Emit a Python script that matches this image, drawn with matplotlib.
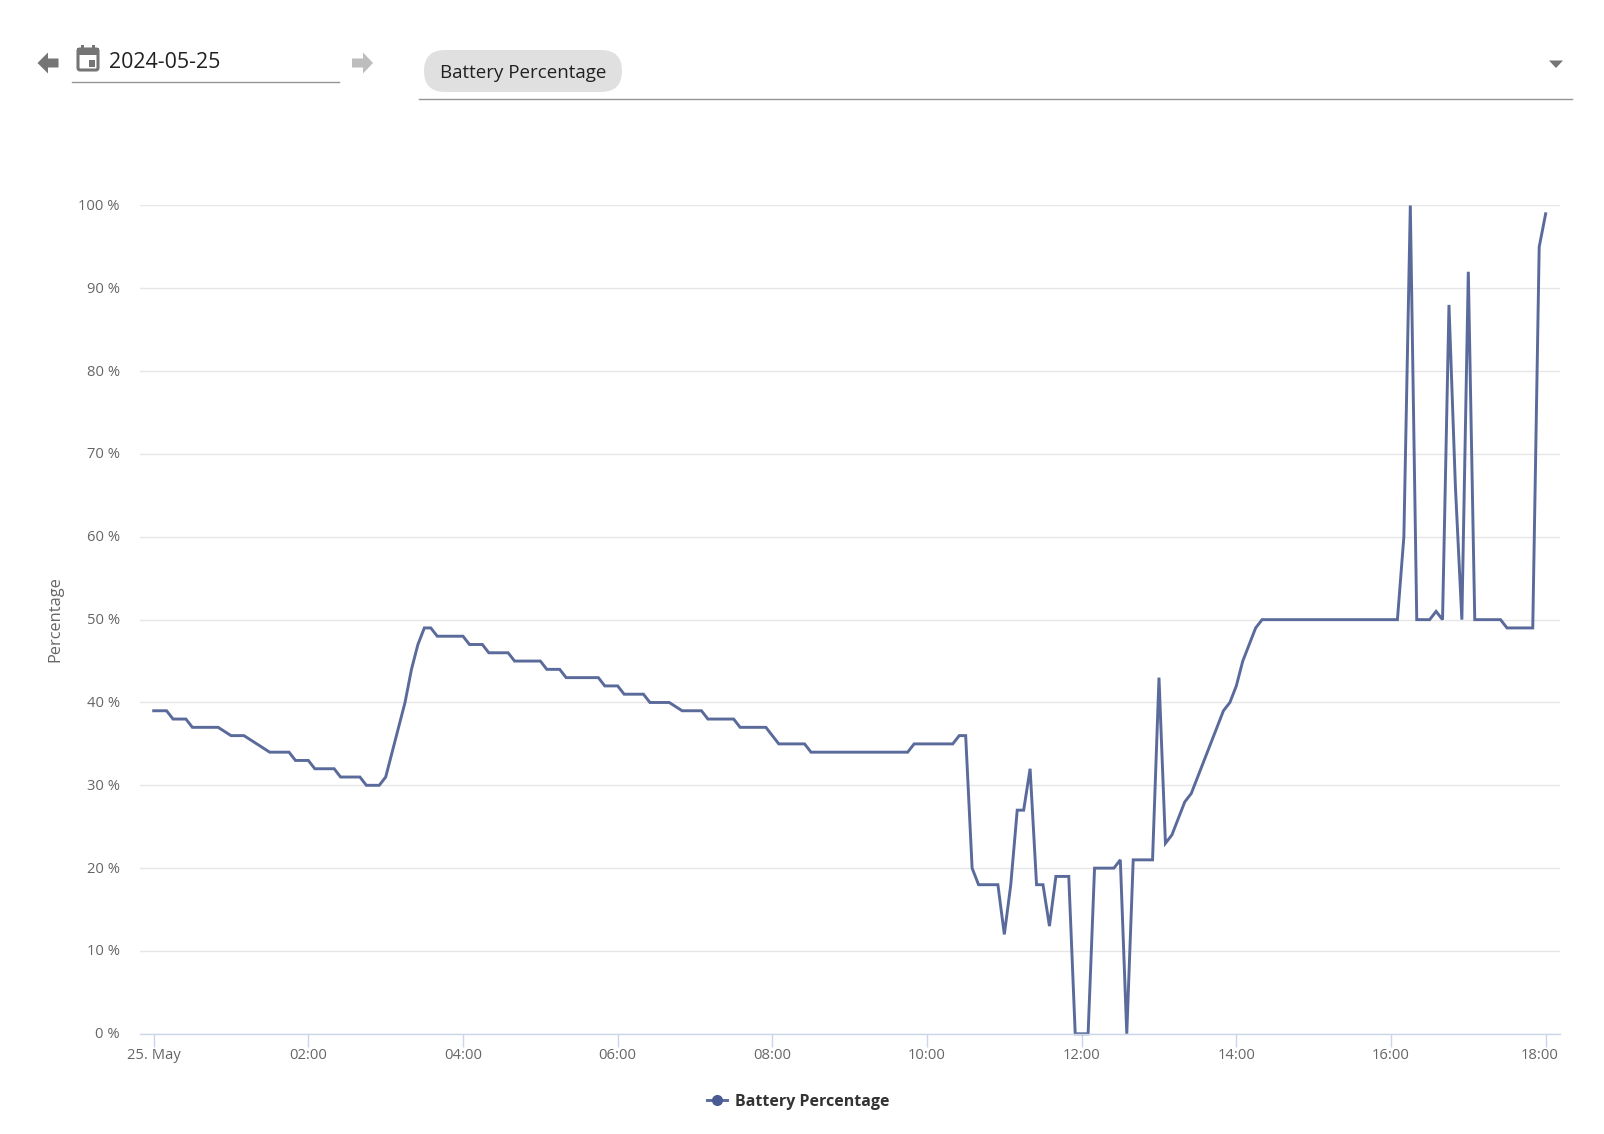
import matplotlib
matplotlib.use("Agg")
import matplotlib.pyplot as plt
from matplotlib.patches import FancyBboxPatch, Polygon, Rectangle
from matplotlib.transforms import ScaledTranslation

plt.rcParams['font.family'] = ['Open Sans', 'DejaVu Sans']

W, H = 1604, 1134

# sample number, one sample every 5 minutes from midnight; gaps are missing samples
samples = [0, 1, 2, 3, 4, 5, 6, 7, 8, 9, 10, 12, 13, 14, 16, 18, 19, 20, 21, 22, 23, 24,
           25, 26, 27, 28, 29, 30, 31, 32, 33, 34, 35, 36, 39, 40, 41, 42, 43, 44, 45, 46,
           47, 48, 49, 50, 51, 52, 53, 54, 55, 56, 57, 58, 59, 60, 61, 62, 63, 64, 65, 66,
           67, 68, 69, 70, 71, 72, 73, 74, 75, 76, 77, 78, 79, 80, 82, 83, 84, 85, 86, 87,
           88, 89, 90, 91, 92, 93, 94, 95, 97, 98, 99, 100, 101, 102, 103, 104, 105, 106,
           107, 108, 109, 110, 111, 112, 113, 114, 115, 116, 117, 118, 119, 120, 121, 122,
           123, 124, 125, 126, 127, 128, 129, 130, 131, 132, 133, 134, 135, 136, 137, 138,
           139, 140, 141, 142, 143, 144, 145, 146, 147, 148, 149, 150, 151, 152, 153, 154,
           155, 156, 157, 158, 160, 161, 166, 167, 168, 169, 171, 172, 173, 174, 175, 176,
           177, 178, 179, 180, 181, 182, 183, 184, 185, 186, 187, 188, 189, 190, 191, 192,
           193, 194, 195, 196, 197, 198, 199, 200, 201, 202, 203, 204, 205, 206, 207, 208,
           209, 210, 211, 212, 213, 214, 215, 216]
battery = [39, 39, 39, 38, 38, 38, 37, 37, 37, 37, 37, 36, 36, 36, 35, 34, 34, 34, 34, 33, 33, 33,
           32, 32, 32, 32, 31, 31, 31, 31, 30, 30, 30, 31, 40, 44, 47, 49, 49, 48, 48, 48,
           48, 48, 47, 47, 47, 46, 46, 46, 46, 45, 45, 45, 45, 45, 44, 44, 44, 43, 43, 43,
           43, 43, 43, 42, 42, 42, 41, 41, 41, 41, 40, 40, 40, 40, 39, 39, 39, 39, 38, 38,
           38, 38, 38, 37, 37, 37, 37, 37, 35, 35, 35, 35, 35, 34, 34, 34, 34, 34,
           34, 34, 34, 34, 34, 34, 34, 34, 34, 34, 34, 35, 35, 35, 35, 35,
           35, 35, 36, 36, 20, 18, 18, 18, 18, 12, 18, 27, 27, 32, 18, 18,
           13, 19, 19, 19, 0, 0, 0, 20, 20, 20, 20, 21, 0, 21, 21, 21,
           21, 43, 23, 24, 28, 29, 39, 40, 42, 45, 49, 50, 50, 50, 50, 50,
           50, 50, 50, 50, 50, 50, 50, 50, 50, 50, 50, 50, 50, 50, 50, 50,
           50, 60, 100, 50, 50, 50, 51, 50, 88, 66, 50, 92, 50, 50, 50, 50,
           50, 49, 49, 49, 49, 49, 95, 99]

y_ticks = [0, 10, 20, 30, 40, 50, 60, 70, 80, 90, 100]
x_ticks = [0, 2, 4, 6, 8, 10, 12, 14, 16, 18]
x_labels = ['25. May', '02:00', '04:00', '06:00', '08:00', '10:00', '12:00', '14:00', '16:00', '18:00']
date_text = '2024-05-25'
series_name = 'Battery Percentage'

LINE = '#5a6a9a'
AXIS = '#ccd6eb'
GRID = '#e6e6e6'
TEXT = '#666666'

fig = plt.figure(figsize=(W / 100, H / 100), dpi=100, facecolor='white')

# chart area, placed in pixels
left, right, top, bottom = 140, 1560, 205.5, 1033.8
ax = fig.add_axes([left / W, 1 - bottom / H, (right - left) / W, (bottom - top) / H])
px_per_hour = 77.33
x0 = 153.7
ax.set_xlim((left - x0) / px_per_hour, (right - x0) / px_per_hour)
ax.set_ylim(0, 100)

hours = [s * 5 / 60 for s in samples]
ax.plot(hours, battery, color=LINE, lw=2.1, solid_joinstyle='miter', zorder=3, clip_on=False)

ax.set_yticks(y_ticks)
ax.set_yticklabels(['%d %%' % v for v in y_ticks])
ax.set_xticks(x_ticks)
ax.set_xticklabels(x_labels)
ax.grid(axis='y', color=GRID, lw=1)
ax.set_axisbelow(True)
for name in ['top', 'right', 'left']:
    ax.spines[name].set_visible(False)
ax.spines['bottom'].set_color(AXIS)
ax.spines['bottom'].set_linewidth(1)
ax.spines['bottom'].set_zorder(4)
ax.tick_params(axis='x', length=9, width=1, color=AXIS, labelcolor=TEXT, labelsize=10.6, pad=1.5)
ax.tick_params(axis='y', length=0, labelcolor=TEXT, labelsize=10.6, pad=14.5)

# y labels sit a pixel above their grid line, last x label is pushed inside the chart
up = ScaledTranslation(0, 1 / 100, fig.dpi_scale_trans)
for lab in ax.get_yticklabels():
    lab.set_transform(lab.get_transform() + up)
last = ax.get_xticklabels()[-1]
last.set_transform(last.get_transform() + ScaledTranslation(-6.5 / 100, 0, fig.dpi_scale_trans))

fig.text(55 / W, 1 - 619 / H, 'Percentage', rotation=90, color=TEXT, fontsize=11.8,
         ha='center', va='center')

# page furniture (date picker, chip, legend) drawn in pixel coordinates
ui = fig.add_axes([0, 0, 1, 1], facecolor='none')
ui.set_xlim(0, W)
ui.set_ylim(H, 0)
ui.axis('off')

ui.add_patch(Polygon([(37.5, 63), (48, 52.5), (48, 58.5), (58.5, 58.5), (58.5, 67.5), (48, 67.5), (48, 73.5)],
                     closed=True, fc='#757575', ec='none'))
ui.add_patch(Polygon([(373, 63), (363, 52.5), (363, 58.5), (352, 58.5), (352, 67.5), (363, 67.5), (363, 73.5)],
                     closed=True, fc='#bdbdbd', ec='none'))

# calendar icon
ui.add_patch(FancyBboxPatch((78, 49), 20, 21, boxstyle='round,pad=0,rounding_size=2',
                            fc='white', ec='#757575', lw=2.2))
ui.add_patch(Rectangle((77, 48), 22, 6.5, fc='#757575', ec='none'))
ui.add_patch(Rectangle((81, 45), 3, 4, fc='#757575', ec='none'))
ui.add_patch(Rectangle((92, 45), 3, 4, fc='#757575', ec='none'))
ui.add_patch(Rectangle((88.5, 60), 6.5, 6.5, fc='#757575', ec='none'))

ui.text(109, 68.5, date_text, fontsize=15.4, color='#212121', ha='left', va='baseline')
ui.plot([72, 338.5], [82, 82], color='#949494', lw=1)

ui.add_patch(FancyBboxPatch((424, 50), 198, 42, boxstyle='round,pad=0,rounding_size=21',
                            fc='#e0e0e0', ec='none', mutation_aspect=1))
ui.text(440, 78.5, series_name, fontsize=13.5, color='#212121', ha='left', va='baseline')
ui.plot([419, 1571.5], [99, 99], color='#949494', lw=1)
ui.add_patch(Polygon([(1549, 60.5), (1563, 60.5), (1556, 68)], closed=True, fc='#757575', ec='none'))

# legend
ui.plot([707, 727], [1099.5, 1099.5], color=LINE, lw=2.1)
ui.plot([717], [1099.5], marker='o', ms=8, color='#4a5b93', mec='none')
ui.text(735, 1105.5, series_name, fontsize=11.5, fontweight='bold', color='#333333',
        ha='left', va='baseline')

fig.savefig('out.png', dpi=100)
